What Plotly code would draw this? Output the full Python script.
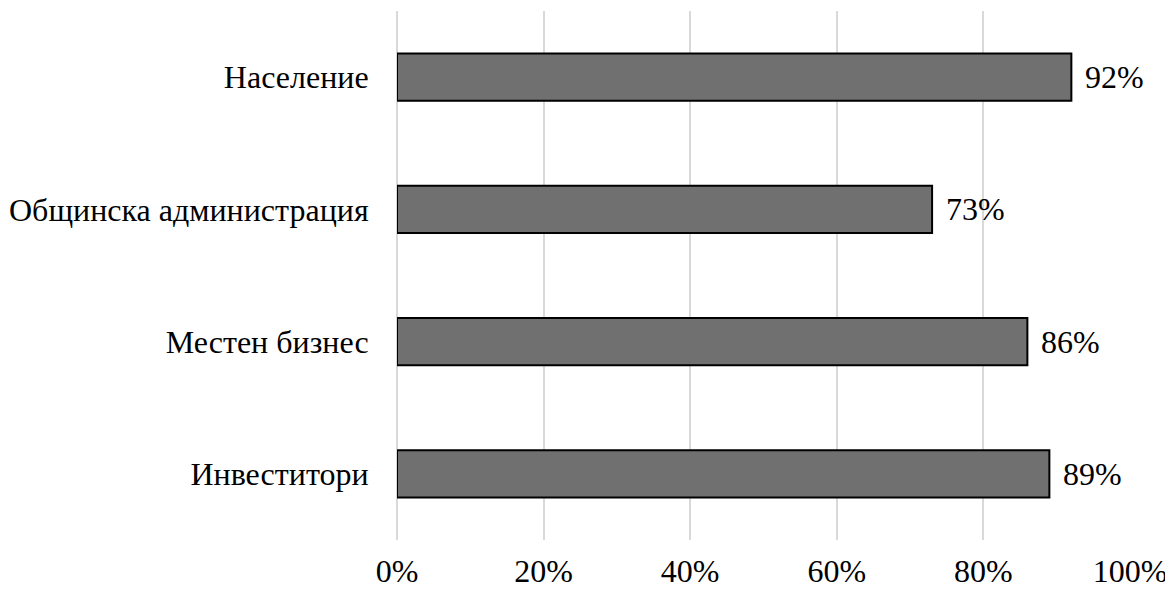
import plotly.graph_objects as go

categories = ["Население", "Общинска администрация", "Местен бизнес", "Инвеститори"]
values = [92, 73, 86, 89]
tick_vals = [0, 20, 40, 60, 80, 100]
tick_text = ["0%", "20%", "40%", "60%", "80%", "100%"]

FONT = "Liberation Serif, Times New Roman, serif"

fig = go.Figure()
fig.add_trace(go.Bar(
    y=categories, x=values, orientation="h",
    marker=dict(color="#707070", line=dict(color="#000000", width=2)),
    hoverinfo="skip",
))
for c, v in zip(categories, values):
    fig.add_annotation(x=v, y=c, text=f"{v}%", showarrow=False,
                       xanchor="left", xshift=12,
                       font=dict(family=FONT, size=32, color="#000"))

fig.update_layout(
    width=1165, height=581,
    margin=dict(l=389, r=43, t=3, b=49),
    paper_bgcolor="white", plot_bgcolor="white",
    bargap=0.644, showlegend=False,
    font=dict(family=FONT, size=32, color="#000"),
    xaxis=dict(range=[0, 100], tickvals=tick_vals, ticktext=tick_text,
               showgrid=True, gridcolor="#d9d9d9", gridwidth=1.5,
               zeroline=True, zerolinecolor="#d9d9d9", zerolinewidth=1.5,
               showline=False, fixedrange=True, automargin=False,
               ticks="outside", ticklen=3, tickcolor="rgba(0,0,0,0)"),
    yaxis=dict(categoryorder="array", categoryarray=categories[::-1],
               showgrid=False, zeroline=False, showline=False, automargin=False,
               ticks="outside", ticklen=21, tickcolor="rgba(0,0,0,0)"),
)
fig.write_html("out.html")
